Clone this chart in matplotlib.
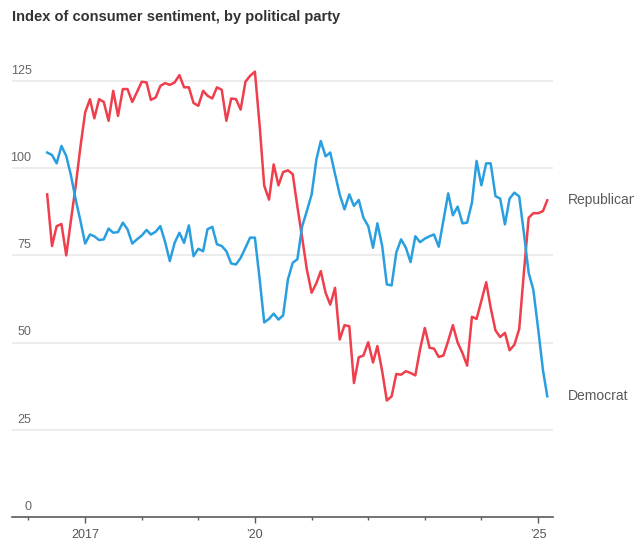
import matplotlib
matplotlib.use("Agg")
import matplotlib.pyplot as plt
import matplotlib.dates as mdates
import pandas as pd

# monthly readings, May 2016 - Mar 2025
republican = [92.5, 77.7, 83.4, 84.0, 75.0, 85.0, 95.0, 106.0, 116.0, 119.8,
              114.3, 119.8, 119.0, 113.6, 122.2, 115.0, 122.7, 122.7, 119.0, 121.8,
              124.8, 124.6, 119.6, 120.3, 123.6, 124.4, 123.9, 124.6, 126.7, 123.2,
              123.2, 118.7, 117.9, 122.2, 120.8, 120.0, 123.2, 122.5, 113.6, 120.0,
              119.8, 116.8, 124.8, 126.5, 127.7, 112.0, 95.0, 91.0, 101.1, 95.1,
              98.9, 99.4, 98.3, 89.0, 80.0, 71.0, 64.3, 67.1, 70.5, 64.3,
              60.9, 65.7, 50.9, 55.0, 54.7, 38.4, 45.8, 46.3, 50.1, 44.3,
              49.0, 41.8, 33.4, 34.6, 41.0, 40.8, 41.8, 41.3, 40.6, 48.0,
              54.2, 48.5, 48.3, 45.9, 46.3, 50.5, 55.0, 50.0, 47.0, 43.4,
              57.4, 56.8, 62.0, 67.3, 60.0, 53.5, 51.6, 52.8, 47.8, 49.4,
              53.9, 70.0, 85.8, 87.1, 87.1, 87.7, 90.8]

democrat = [104.5, 103.8, 101.4, 106.4, 103.5, 98.0, 91.0, 85.0, 78.4, 81.0,
            80.5, 79.4, 79.6, 82.7, 81.5, 81.7, 84.4, 82.5, 78.4, 79.6,
            80.7, 82.3, 81.0, 81.8, 83.4, 78.8, 73.4, 78.6, 81.5, 78.6,
            83.6, 74.8, 76.9, 76.2, 82.5, 83.2, 78.2, 77.7, 76.2, 72.7,
            72.4, 74.3, 77.2, 80.1, 80.1, 68.0, 55.8, 56.8, 58.3, 56.6,
            57.8, 68.1, 72.9, 73.9, 83.4, 87.7, 92.5, 102.6, 107.8, 103.4,
            104.5, 98.3, 92.5, 88.2, 92.5, 89.2, 90.9, 85.8, 83.4, 77.2,
            84.2, 77.7, 66.7, 66.4, 75.8, 79.6, 77.2, 73.1, 80.5, 78.8,
            79.8, 80.5, 81.0, 77.5, 85.0, 92.8, 86.5, 89.0, 84.2, 84.4,
            90.1, 102.1, 95.1, 101.4, 101.4, 92.0, 91.3, 83.9, 91.3, 93.0,
            91.9, 81.5, 70.0, 65.2, 54.0, 42.2, 34.6]

dates = pd.date_range("2016-05-01", periods=len(republican), freq="MS")
y_ticks = [0, 25, 50, 75, 100, 125]
x_major = ["2017-01-01", "2020-01-01", "2025-01-01"]
x_labels = ["2017", "\u201920", "\u201925"]

RED = "#ef3e4c"
BLUE = "#2a9fdf"
GREY = "#5a5a5a"

plt.rcParams["font.family"] = ["Liberation Sans", "DejaVu Sans"]

fig = plt.figure(figsize=(6.34, 5.43), dpi=100)
ax = fig.add_axes([12 / 634, 26 / 543, 541 / 634, 453.4 / 543])

ax.plot(dates, republican, color=RED, lw=1.8, zorder=3)
ax.plot(dates, democrat, color=BLUE, lw=1.8, zorder=3)

ax.set_ylim(0, 130)
ax.set_xlim(pd.Timestamp("2015-09-17"), pd.Timestamp("2025-04-07"))

# horizontal grid + labels sitting above the lines
ax.set_yticks(y_ticks)
ax.set_yticklabels([])
ax.tick_params(axis="y", length=0)
for v in y_ticks[1:]:
    ax.axhline(v, color="#e9e9e9", lw=1.2, zorder=1)
for v in y_ticks:
    ax.annotate(str(v), xy=(0, v), xycoords=("axes fraction", "data"),
                xytext=(14, 3), textcoords="offset points",
                ha="right", va="bottom", fontsize=9, color="#666666")

# x axis
ax.set_xticks(pd.to_datetime(x_major))
ax.set_xticklabels(x_labels)
ax.xaxis.set_minor_locator(mdates.YearLocator())
ax.tick_params(axis="x", which="major", length=4, width=1, color=GREY,
               pad=5, labelsize=9, labelcolor="#555555")
ax.tick_params(axis="x", which="minor", length=2.5, width=1, color=GREY)

for s in ["top", "right", "left"]:
    ax.spines[s].set_visible(False)
ax.spines["bottom"].set_color(GREY)
ax.spines["bottom"].set_linewidth(1.2)

# end labels (the reference crops "Republican" at the right edge too)
ax.annotate("Republican", xy=(dates[-1], republican[-1]), xytext=(14.5, 0),
            textcoords="offset points", va="center", fontsize=10,
            color=GREY, annotation_clip=False)
ax.annotate("Democrat", xy=(dates[-1], democrat[-1]), xytext=(14.5, 0),
            textcoords="offset points", va="center", fontsize=10,
            color=GREY, annotation_clip=False)

fig.text(12 / 634, 1 - 17 / 543, "Index of consumer sentiment, by political party",
         fontsize=10.5, fontweight="bold", color="#333333", va="center",
         family=["Liberation Sans Narrow", "Liberation Sans", "DejaVu Sans"])

fig.savefig("out.png", dpi=100)
